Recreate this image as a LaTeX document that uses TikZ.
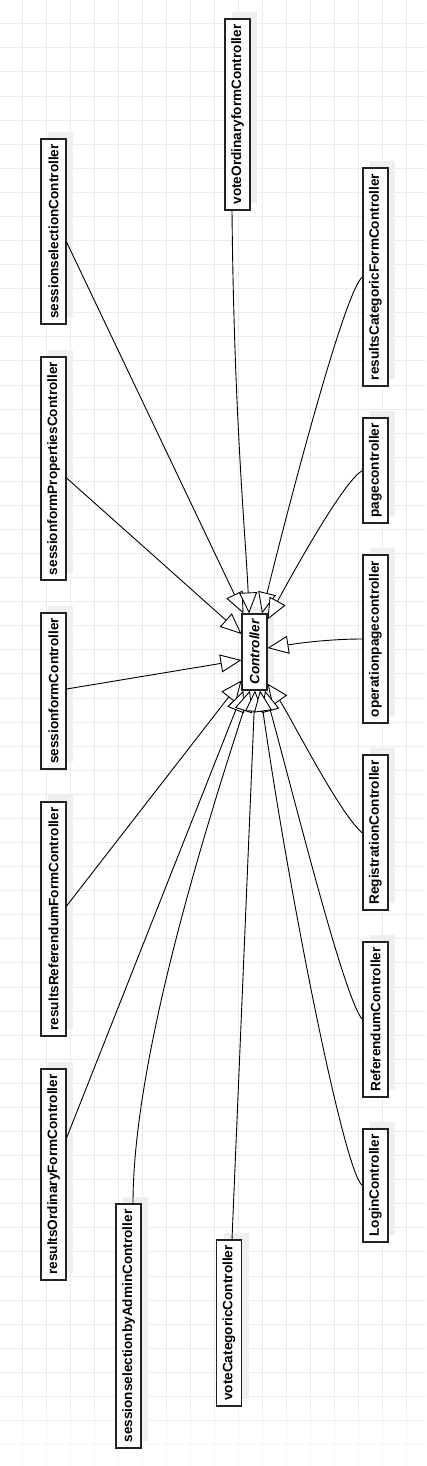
\documentclass[tikz,border=0pt]{standalone}
\usepackage{fontspec}
\setmainfont{Liberation Sans}
\usetikzlibrary{arrows.meta,calc}
\definecolor{gridc}{HTML}{EBEBEB}
\definecolor{shadc}{HTML}{EFEFEF}
\definecolor{boxc}{HTML}{222222}
\newcommand\umlbox[5]{%
  \fill[shadc] ({#2-12.5+7},{#3-#4/2-7}) rectangle ({#2+12.5+7},{#3+#4/2-7});
  \node[cls, minimum width=#4pt] (#1) at (#2,#3) {#5};}
\begin{document}
\begin{tikzpicture}[x=1pt,y=-1pt,
  cls/.style={draw=boxc, fill=white, line width=1.1pt, rotate=90, inner sep=0pt,
    minimum height=25pt, font=\fontsize{13.6}{16}\selectfont\bfseries},
  gen/.style={draw=black, line width=0.9pt, -{Triangle[length=21pt,width=18pt,fill=white]}},
  gridline/.style={draw=gridc, line width=0.9pt}]
\useasboundingbox (0,0) rectangle (426,1466);
\clip (0,0) rectangle (426,1466);
\fill[white] (0,0) rectangle (426,1466);
\foreach \i in {0,...,16} \draw[gridline] ({22.7+24*\i},0) -- ({22.7+24*\i},1466);
\foreach \j in {1,...,60} \draw[gridline] (0,{24.08*\j-0.3}) -- (426,{24.08*\j-0.3});
\foreach \k [evaluate=\k as \op using {0.07*(\k+1)}] in {0,...,9}
  \fill[white, opacity=\op] (0,{1390+8*\k}) rectangle (426,{1398+8*\k});

\umlbox{ssc}{53.5}{231.5}{185}{sessionselectionController}
\umlbox{sfp}{53.5}{468.5}{223}{sessionformPropertiesController}
\umlbox{sfc}{53.5}{691}{156}{sessionformController}
\umlbox{rrf}{53.5}{919}{234}{resultsReferendumFormController}
\umlbox{rof}{53.5}{1174.5}{211}{resultsOrdinaryFormController}
\umlbox{sba}{128.5}{1326}{244}{sessionselectionbyAdminController}
\umlbox{vcc}{229}{1323}{166}{voteCategoricController}
\umlbox{vof}{237.5}{114.5}{191}{voteOrdinaryformController}
\umlbox{ctl}{254.5}{652}{76}{\itshape Controller}
\umlbox{rcf}{375.5}{277}{218}{resultsCategoricFormController}
\umlbox{pc}{375.5}{470.5}{105}{pagecontroller}
\umlbox{opc}{375.5}{639}{168}{operationpagecontroller}
\umlbox{reg}{375.5}{832.5}{155}{RegistrationController}
\umlbox{ref}{375.5}{1019.5}{155}{ReferendumController}
\umlbox{lgn}{375.5}{1185.5}{113}{LoginController}

% left side
\draw[gen] ($(ssc.south)+(0,10.5)$) -- ($(ctl.north east)+(2,0)$);
\draw[gen] ($(sfp.south)+(0,9.5)$) -- ($(ctl.north)+(0,-18)$);
\draw[gen] ($(sfc.south)+(0,-2)$) -- ($(ctl.north)+(0,8)$);
\draw[gen] ($(rrf.south)+(0,-13)$) -- ($(ctl.north west)+(0,-10)$);
\draw[gen] ($(rof.south)+(0,-36.5)$) -- ($(ctl.north west)+(2,0)$);
\draw[gen] ($(sba.east)+(4.5,0)$) .. controls (133,1050) and (215,800) .. ($(ctl.west)+(-4.5,0)$);
\draw[gen] ($(vcc.east)+(3,0)$) -- ($(ctl.west)+(0.5,0)$);
% top
\draw[gen] ($(vof.west)+(-5.5,0)$) .. controls (234,420) and (246,540) .. ($(ctl.east)+(-5.5,0)$);
% right side
\draw[gen] (rcf.north) .. controls (345,290) and (290,500) .. ($(ctl.east)+(7.5,0)$);
\draw[gen] (pc.north) .. controls (345,480) and (300,560) .. ($(ctl.south east)+(0,6)$);
\draw[gen] (opc.north) .. controls (330,639) and (300,643) .. ($(ctl.south)+(0,-4)$);
\draw[gen] ($(reg.north)+(0,0.5)$) .. controls (340,815) and (288,712) .. ($(ctl.south west)+(0,-7)$);
\draw[gen] (ref.north) .. controls (345,1000) and (300,820) .. ($(ctl.west)+(10.5,0)$);
\draw[gen] (lgn.north) .. controls (345,1175) and (290,900) .. ($(ctl.west)+(5.5,0)$);
\end{tikzpicture}
\end{document}
